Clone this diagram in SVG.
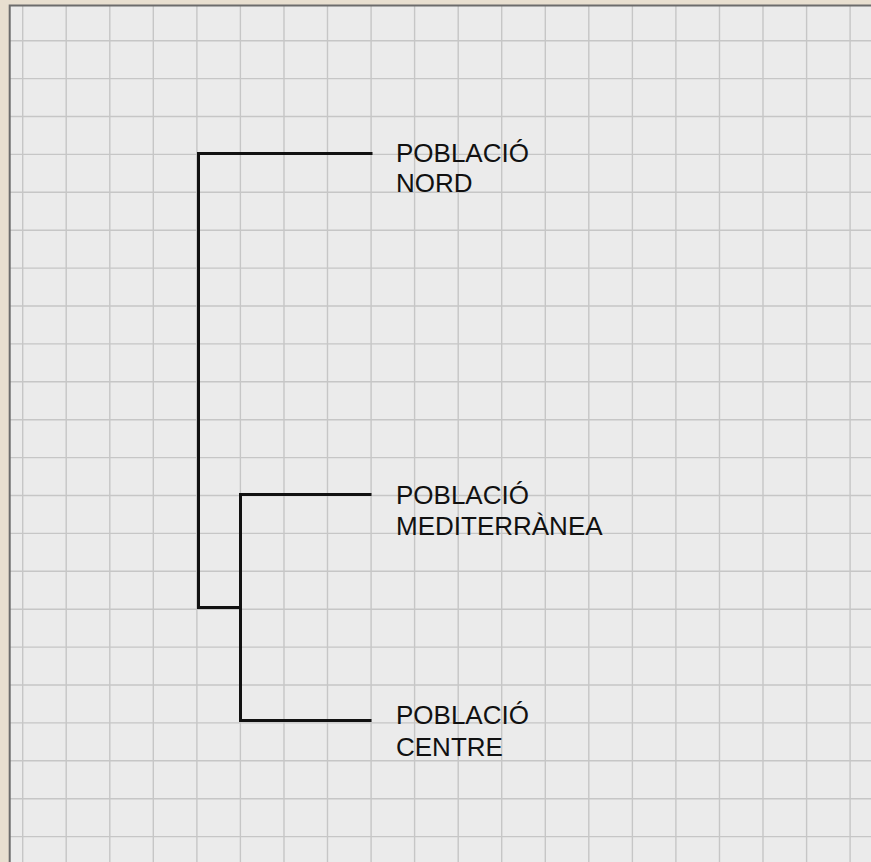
<svg xmlns="http://www.w3.org/2000/svg" width="871" height="862" viewBox="0 0 871 862">
  <style>
    .grid { stroke: #c6c6c6; stroke-width: 1.4; fill: none; }
    .edge { stroke: #111111; stroke-width: 3; fill: none; stroke-linecap: square; stroke-linejoin: miter; }
    .label { font-family: "Liberation Sans", Arial, sans-serif; font-size: 26px; fill: #111111; }
  </style>
  <rect x="0" y="0" width="871" height="862" fill="#e8dfd0"/>
  <rect x="9" y="5" width="862" height="857" fill="#ebebeb"/>
  <path class="grid" d="M22.7 5V862M66.2 5V862M109.8 5V862M153.3 5V862M196.9 5V862M240.4 5V862M284 5V862M327.5 5V862M371.1 5V862M414.6 5V862M458.2 5V862M501.7 5V862M545.3 5V862M588.8 5V862M632.4 5V862M675.9 5V862M719.5 5V862M763 5V862M806.6 5V862M850.1 5V862"/>
  <path class="grid" d="M9 40.7H871M9 78.6H871M9 116.5H871M9 154.4H871M9 192.3H871M9 230.2H871M9 268.1H871M9 306H871M9 343.9H871M9 381.8H871M9 419.7H871M9 457.6H871M9 495.5H871M9 533.4H871M9 571.3H871M9 609.2H871M9 647.1H871M9 685H871M9 722.9H871M9 760.8H871M9 798.7H871M9 836.6H871"/>
  <path d="M9.7 862V5.5H871" fill="none" stroke="#6c6c6c" stroke-width="2"/>
  <g id="connectors">
    <path class="edge" d="M371 153.5H198.5V607.5H240.5"/>
    <path class="edge" d="M370 494.5H240.5V720.5H370"/>
  </g>
  <g id="node-nord">
    <text class="label" x="396" y="161.5">POBLACIÓ</text>
    <text class="label" x="396" y="192">NORD</text>
  </g>
  <g id="node-mediterranea">
    <text class="label" x="396" y="503.5">POBLACIÓ</text>
    <text class="label" x="396" y="534.5">MEDITERRÀNEA</text>
  </g>
  <g id="node-centre">
    <text class="label" x="396" y="723.5">POBLACIÓ</text>
    <text class="label" x="396" y="755.5">CENTRE</text>
  </g>
</svg>
